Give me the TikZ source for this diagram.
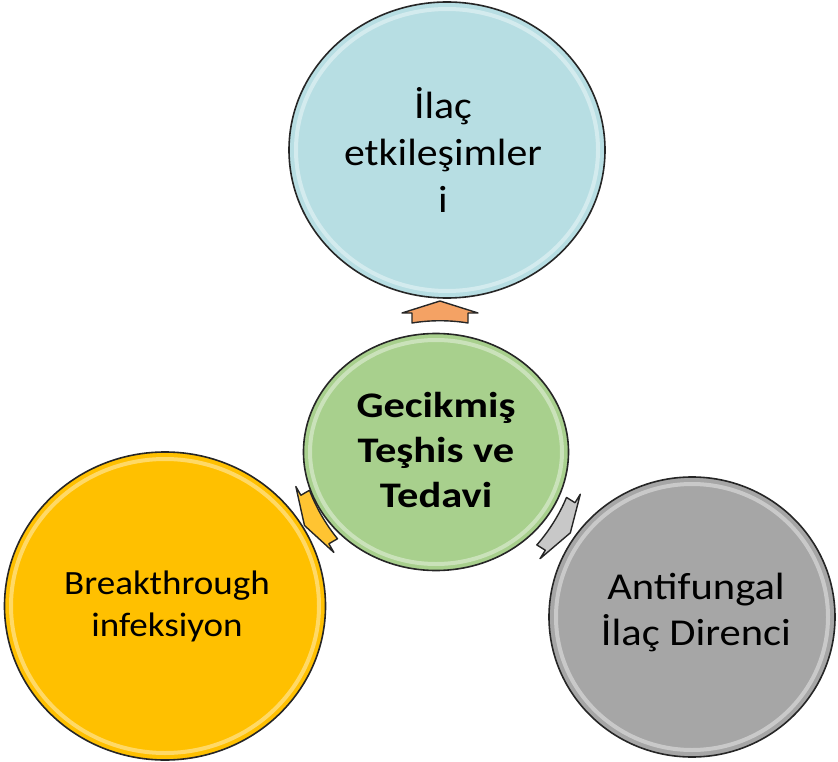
\documentclass[tikz,border=0pt]{standalone}
\usepackage{fontspec}
\setmainfont{Carlito}
\newfontfamily\fonttop[FakeStretch=1.10]{Carlito}
\newfontfamily\fontmid[FakeStretch=1.18]{Carlito}
\newfontfamily\fontleft[FakeStretch=1.09]{Carlito}
\newfontfamily\fontright[FakeStretch=1.12]{Carlito}
\usetikzlibrary{shapes.geometric}
\definecolor{cblue}{RGB}{183,222,227}
\definecolor{cgreen}{RGB}{168,208,141}
\definecolor{corange}{RGB}{255,192,0}
\definecolor{cgray}{RGB}{166,166,166}
\definecolor{aorange}{RGB}{244,162,100}
\definecolor{ayellow}{RGB}{255,196,50}
\definecolor{agray}{RGB}{200,200,200}
\tikzset{
  bubble/.style={ellipse, draw=black!85, line width=1.6pt, inner sep=0pt},
  label text/.style={align=center, text=black, inner sep=0pt},
  ring/.style={draw=white, opacity=0.4, line width=4pt},
  blockarrow/.style={draw=black!85, line width=1.4pt, line join=round},
}
\newcommand{\arrowshape}{(0,-11) -- (38,1) -- (28,1) -- (28,11) .. controls (10,8) and (-10,8) .. (-28,11) -- (-28,1) -- (-38,1) -- cycle}
\begin{document}
\begin{tikzpicture}[x=1pt,y=-1pt]
\useasboundingbox (0,0) rectangle (838,762);
% circles
\node[bubble, fill=cblue, minimum width=316pt, minimum height=296pt] (top) at (447,150) {};
\node[bubble, fill=cgreen, minimum width=265pt, minimum height=237pt] (mid) at (436,452) {};
\node[bubble, fill=corange, minimum width=321pt, minimum height=308pt] (left) at (165,606) {};
\node[bubble, fill=cgray, minimum width=286pt, minimum height=280pt] (right) at (692,617) {};
% bevel highlights
\draw[ring] (top.center) ellipse [x radius=151pt, y radius=141pt];
\draw[ring] (mid.center) ellipse [x radius=126pt, y radius=112pt];
\draw[ring] (left.center) ellipse [x radius=154pt, y radius=147pt];
\draw[ring] (right.center) ellipse [x radius=136pt, y radius=133pt];
% texts
\node[label text, font=\fonttop\fontsize{38}{47}\selectfont] (ttop) at ([xshift=-4pt]top.center) {İlaç\\etkileşimler\\i};
\node[label text, font=\fontmid\fontsize{36}{45}\selectfont\bfseries] (tmid) at ([yshift=2pt]mid.center) {Gecikmiş\\Teşhis ve\\Tedavi};
\node[label text, font=\fontleft\fontsize{34}{42}\selectfont] (tleft) at ([xshift=2pt]left.center) {Breakthrough\\infeksiyon};
\node[label text, font=\fontright\fontsize{38}{46}\selectfont] (tright) at ([xshift=4pt,yshift=5pt]right.center) {Antifungal\\İlaç Direnci};
% block arrows
\coordinate (a1) at (440,312);
\coordinate (a2) at (314,520);
\coordinate (a3) at (561,527);
\begin{scope}[shift={(a1)}]
  \draw[blockarrow, fill=aorange] \arrowshape;
\end{scope}
\begin{scope}[shift={(a2)}, rotate=120]
  \draw[blockarrow, fill=ayellow] \arrowshape;
\end{scope}
\begin{scope}[shift={(a3)}, rotate=-122]
  \draw[blockarrow, fill=agray] \arrowshape;
\end{scope}
\end{tikzpicture}
\end{document}
